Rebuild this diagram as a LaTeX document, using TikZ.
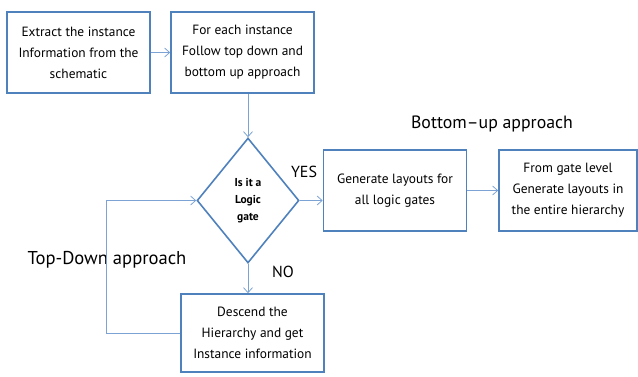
\documentclass[tikz,border=0pt]{standalone}
\usepackage{fontspec}
\setmainfont{PT Sans}
\usetikzlibrary{shapes.geometric,arrows.meta}
\definecolor{boxblue}{RGB}{79,129,189}
\definecolor{lineblue}{RGB}{125,163,212}

\begin{document}
\begin{tikzpicture}[x=1pt,y=-1pt,
box/.style={draw=boxblue,line width=1.6pt,minimum width=143pt,minimum height=81pt,
  align=center,inner sep=0pt,font=\fontsize{13.4}{21}\selectfont},
decision/.style={diamond,draw=boxblue,line width=1.6pt,minimum width=102pt,
  minimum height=125pt,align=center,inner sep=0pt,font=\bfseries\fontsize{11.5}{17}\selectfont},
link/.style={draw=lineblue,line width=0.8pt,-{Straight Barb[length=5pt,width=9pt]}},
tag/.style={font=\fontsize{17.8}{20}\selectfont}]
\useasboundingbox (0,0) rectangle (638,376);

% steps of the flow
\node[box] (extract) at (78.5,52.5) {Extract the instance\\Information from the\\schematic};
\node[box] (each) at (242.5,52.5) {For each instance\\Follow top down and\\bottom up approach};
\node[decision] (logic) at (248,200.5) {Is it a\\Logic\\gate};
\node[box] (gen) at (395,190.5) {Generate layouts for\\all logic gates};
\node[box,minimum width=138pt] (hier) at (568,190.5) {From gate level\\Generate layouts in\\the entire hierarchy};
\node[box,minimum height=78pt] (descend) at (252.5,333) {Descend the\\Hierarchy and get\\Instance information};

% labels
\node[tag] (bu) at (492,124) {Bottom–up approach};
\node[tag,font=\fontsize{18.6}{20}\selectfont] (td) at (107,260) {Top-Down approach};
\node[tag,font=\fontsize{16}{18}\selectfont] (yes) at (304,172) {YES};
\node[tag,font=\fontsize{16}{18}\selectfont] (no) at (283,272) {NO};

% connectors
\draw[link] (extract) -- (each);
\draw[link] (each.south -| logic.north) -- (logic.north);
\draw[link] (logic.east) -- (logic.east -| gen.west);
\draw[link] (gen) -- (hier);
\draw[link] (logic.south) -- (logic.south |- descend.north);
\draw[link] (descend.west) -- ++(-74,0) |- (logic.west);
\end{tikzpicture}
\end{document}
